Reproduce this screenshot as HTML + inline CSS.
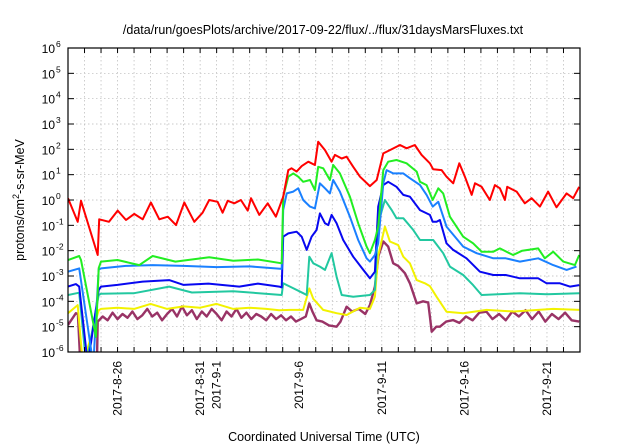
<!DOCTYPE html>
<html><head><meta charset="utf-8"><style>
html,body{margin:0;padding:0;background:#fff;}
svg{display:block;font-family:"Liberation Sans",sans-serif;}
</style></head><body>
<svg id="chart" width="640" height="448" viewBox="0 0 640 448" xmlns="http://www.w3.org/2000/svg">
<rect width="640" height="448" fill="#fff"/>
<text x="323" y="34" font-size="12.5" text-anchor="middle" fill="#000">/data/run/goesPlots/archive/2017-09-22/flux/../flux/31daysMarsFluxes.txt</text>
<text transform="translate(24,200) rotate(-90)" font-size="12.5" text-anchor="middle" fill="#000">protons/cm<tspan font-size="9" dy="-5">2</tspan><tspan dy="5">-s-sr-MeV</tspan></text>
<text x="324" y="441" font-size="12.5" text-anchor="middle" fill="#000">Coordinated Universal Time (UTC)</text>
<defs><clipPath id="plotclip"><rect x="68" y="48" width="512" height="304"/></clipPath></defs>
<g id="grid"></g>
<g id="series" clip-path="url(#plotclip)"></g>
<g id="axes"></g>
</svg>
<script>
const yTickExponents=[-6,-5,-4,-3,-2,-1,0,1,2,3,4,5,6];
const xTickDays=[3,8,9,14,19,24,29];
const xTickLabels=["2017-8-26","2017-8-31","2017-9-1","2017-9-6","2017-9-11","2017-9-16","2017-9-21"];

const redDays=[0,0.59,0.79,1.8,1.89,2.48,3.01,3.51,4.01,4.52,5.02,5.53,6.04,6.54,7.04,7.65,8.15,8.55,9.06,9.36,9.67,10.07,10.47,10.88,11.08,11.58,12.09,12.59,13.03,13.34,13.54,13.84,14.15,14.55,14.95,15.15,15.56,15.96,16.16,16.57,16.87,17.27,17.68,18.28,18.69,19.09,19.49,20.1,20.5,21.0,21.41,21.91,22.11,22.62,22.92,23.32,23.69,24.03,24.44,24.64,25.04,25.54,25.85,26.15,26.45,26.59,27.16,27.66,28.07,28.57,29.07,29.58,30.19,30.59,30.95];
const redLog=[0.07,-0.86,-0.03,-2.17,-0.76,-0.86,-0.42,-0.79,-0.55,-0.76,-0.1,-0.76,-0.66,-0.99,-0.1,-0.86,-0.5,0,-0.07,-0.5,-0.03,-0.13,0,-0.42,0.07,-0.59,-0.13,-0.66,0.13,1.18,1.25,1.12,1.34,1.51,1.38,2.3,1.97,1.51,1.78,1.64,1.71,1.31,0.92,0.55,0.79,1.84,1.97,2.17,2.04,2.17,1.78,1.45,1.21,1.18,0.92,0.66,1.45,0.92,0.2,0.66,0.52,0,0.59,0.46,0,0.52,0.33,-0.13,0.07,-0.26,0.33,-0.29,0.26,0.07,0.52];

const greenDays=[0,0.68,0.79,1.69,1.86,2.0,3.0,4.32,5.13,6.5,8.55,10,11.5,12.94,13.03,13.34,13.64,13.94,14.24,14.65,14.95,15.15,15.45,15.86,16.06,16.46,17.07,17.57,18.08,18.28,18.58,18.78,19.09,19.39,19.89,20.5,21.11,21.31,21.71,22.08,22.42,22.72,23.12,23.93,24.53,25.04,25.75,26.15,26.95,27.5,28.47,28.87,29.38,29.98,30.69,30.95];
const greenLog=[-2.37,-2.21,-2.37,-5.4,-2.69,-2.43,-2.37,-2.57,-2.21,-2.43,-2.26,-2.4,-2.35,-2.5,0.13,0.92,1.05,0.92,0.72,0.79,0.39,1.31,1.25,0.79,1.38,1.05,0.13,-0.92,-1.84,-2.1,-1.58,-1.05,1.18,1.51,1.58,1.45,1.12,0.72,0.59,0,0.46,0.26,-0.66,-1.45,-1.71,-2.04,-2.04,-1.91,-2.17,-2.0,-1.91,-2.3,-2.04,-2.43,-2.57,-2.17];

const lightBlueDays=[0,0.68,1.53,1.86,2.0,3.5,5.13,7,9,11,12.94,13.03,13.24,13.64,13.94,14.24,14.65,14.95,15.25,15.56,15.86,16.06,16.46,17.07,17.57,18.08,18.28,18.58,18.78,19.09,19.29,19.69,20.3,20.7,21.31,21.71,22.08,22.42,22.92,23.93,24.74,25.75,26.5,27.36,28.47,29.38,30.19,30.79];
const lightBlueLog=[-2.83,-2.7,-6.5,-2.74,-2.7,-2.6,-2.57,-2.6,-2.65,-2.62,-2.72,-0.39,0.26,0.33,0.46,0,-0.26,-0.33,0.66,0.46,0.26,0.79,0.33,-0.66,-1.58,-2.3,-2.43,-2.17,-1.71,0.66,1.18,1.05,1.05,0.86,0.59,0.2,-0.26,-0.07,-1.05,-1.84,-2.1,-2.3,-2.3,-2.43,-2.3,-2.57,-2.76,-2.63];

const blueDays=[0,0.48,0.68,1.2,1.86,2.0,3,4.52,6.13,7,8.5,10.37,11.5,12.79,12.94,13.03,13.34,13.84,14.15,14.45,14.75,15.05,15.25,15.56,15.76,15.96,16.26,16.66,17.27,17.88,18.28,18.58,18.78,19.09,19.39,19.89,20.3,20.7,21.31,21.91,22.08,22.32,22.52,22.92,23.32,24.13,24.94,25.75,26.5,27.36,28.47,28.98,29.78,30.39,30.95];
const blueLog=[-3.42,-3.32,-3.42,-6.5,-3.55,-3.42,-3.35,-3.22,-3.16,-3.35,-3.3,-3.42,-3.3,-3.42,-3.45,-1.45,-1.32,-1.25,-1.45,-1.97,-1.45,-1.18,-0.53,-0.92,-0.99,-0.59,-0.92,-1.58,-2.24,-2.76,-3.09,-2.83,-0.26,0.59,0.72,0.52,0.2,0.13,-0.4,-0.59,-0.86,-0.86,-0.79,-1.71,-1.97,-2.3,-2.83,-2.96,-2.96,-3.09,-3.09,-3.29,-3.29,-3.42,-3.36];

const tealDays=[0,0.68,1.1,1.86,2.0,4,6.13,7.5,10,12.94,13.03,13.44,14.24,14.45,14.61,14.85,15.25,15.56,15.96,16.26,16.57,17.27,18.28,18.58,18.78,19.19,19.59,19.89,20.3,20.9,21.31,22.11,22.72,23.12,23.93,24.53,25.04,27.36,29,30.95];
const tealLog=[-3.75,-3.66,-6.5,-3.75,-3.7,-3.68,-3.42,-3.65,-3.6,-3.75,-3.29,-3.42,-3.68,-3.75,-2.24,-2.5,-2.63,-2.76,-2.1,-3.03,-3.75,-3.82,-3.75,-3.55,-0.92,0,-0.39,-0.72,-0.72,-1.18,-1.58,-1.58,-2.1,-2.63,-2.96,-3.36,-3.75,-3.68,-3.72,-3.68];

const yellowDays=[0,0.59,0.9,1.86,2.0,3,4,5,6,7,8,9,10,11,12,12.79,13.44,14.24,14.61,14.85,15.45,16.26,16.87,17.68,18.28,18.58,18.78,19.19,19.49,19.99,20.3,20.7,21.11,21.61,21.91,22.32,22.92,23.93,25.34,27,29.38,30.95];
const yellowLog=[-4.47,-4.15,-6.5,-4.35,-4.3,-4.25,-4.3,-4.1,-4.3,-4.2,-4.25,-4.1,-4.3,-4.25,-4.3,-4.35,-4.34,-4.34,-3.49,-3.9,-4.34,-4.47,-4.54,-4.25,-4.3,-3.82,-2.2,-1.05,-1.64,-1.78,-2.24,-2.5,-3.16,-3.29,-3.4,-3.82,-4.41,-4.47,-4.34,-4.4,-4.3,-4.34];

const purpleDays=[0,0.48,0.6,0.75,1.75,1.8,2.1,2.4,2.7,3.0,3.3,3.6,3.9,4.2,4.5,4.8,5.1,5.4,5.7,6.0,6.3,6.6,6.9,7.2,7.5,7.8,8.1,8.4,8.7,9.0,9.3,9.6,9.9,10.2,10.5,10.8,11.1,11.4,11.7,12.0,12.3,12.6,12.9,13.2,13.5,13.8,14.1,14.4,14.61,14.8,15.05,15.4,15.8,16.26,16.5,16.87,17.2,17.6,18.0,18.28,18.58,18.8,19.09,19.39,19.69,19.99,20.4,20.7,21.11,21.5,21.81,21.91,22.02,22.3,22.52,22.9,23.32,23.7,24.1,24.5,24.9,25.34,25.7,26.1,26.5,26.9,27.3,27.7,28.1,28.5,28.9,29.3,29.7,30.1,30.5,30.95];
const purpleLog=[-4.93,-4.47,-4.5,-6.5,-6.5,-4.8,-4.6,-4.75,-4.45,-4.7,-4.5,-4.65,-4.4,-4.7,-4.55,-4.3,-4.6,-4.45,-4.75,-4.5,-4.3,-4.6,-4.2,-4.55,-4.35,-4.7,-4.4,-4.6,-4.3,-4.5,-4.75,-4.4,-4.6,-4.3,-4.65,-4.45,-4.7,-4.5,-4.6,-4.75,-4.5,-4.7,-4.55,-4.75,-4.6,-4.8,-4.7,-4.6,-4.08,-4.4,-4.75,-4.8,-4.95,-5.0,-4.8,-4.21,-4.4,-4.3,-4.5,-4.15,-3.42,-2.2,-1.64,-1.84,-2.5,-2.6,-2.89,-3.29,-4.08,-4.0,-4.05,-4.6,-5.2,-5.0,-5.0,-4.8,-4.74,-4.85,-4.6,-4.75,-4.45,-4.41,-4.7,-4.5,-4.75,-4.4,-4.6,-4.35,-4.7,-4.4,-4.8,-4.5,-4.7,-4.45,-4.75,-4.8];

const NS="http://www.w3.org/2000/svg";
const PL=68,PR=580,PT=48,PB=352,DAYS=31,YMIN=-6,YMAX=6;
function xScale(d){return PL+(d/DAYS)*(PR-PL);}
function yScale(l){return PB-(l-YMIN)/(YMAX-YMIN)*(PB-PT);}
function mk(tag,attrs,parent){const e=document.createElementNS(NS,tag);for(const k in attrs)e.setAttribute(k,attrs[k]);parent.appendChild(e);return e;}
const grid=document.getElementById('grid'),axes=document.getElementById('axes'),series=document.getElementById('series');

for(let d=1;d<DAYS;d++){
  const x=xScale(d);
  const g=mk('line',{x1:x,x2:x,y1:PT,y2:PB,stroke:'#b8b8b8','stroke-width':0.7,'stroke-dasharray':'1.5,2.5'},grid);
  
  
  const t1=mk('line',{x1:x,x2:x,y1:PB,y2:PB-5,stroke:'#000','stroke-width':1},axes);
  
  
  const t2=mk('line',{x1:x,x2:x,y1:PT,y2:PT+5,stroke:'#000','stroke-width':1},axes);
  
  
}
yTickExponents.forEach(function(e){
  const y=yScale(e);
  if(e>YMIN&&e<YMAX){
    const g=mk('line',{x1:PL,x2:PR,y1:y,y2:y,stroke:'#b8b8b8','stroke-width':0.7,'stroke-dasharray':'1.5,2.5'},grid);
    
    
  }
  const t1=mk('line',{x1:PL,x2:PL+6,y1:y,y2:y,stroke:'#000','stroke-width':1},axes);
  
  
  const t2=mk('line',{x1:PR,x2:PR-6,y1:y,y2:y,stroke:'#000','stroke-width':1},axes);
  
  
  const lab=mk('text',{x:PL-13,y:y+5,'font-size':12,'text-anchor':'end',fill:'#000'},axes);
  
  
  lab.textContent='10';
  const sup=mk('text',{x:PL-12,y:y-1,'font-size':8.5,'text-anchor':'start',fill:'#000'},axes);
  
  
  sup.textContent=String(e);
});
xTickDays.forEach(function(d,i){
  const x=xScale(d)+4;
  const t=mk('text',{transform:'translate('+x+','+(PB+9)+') rotate(-90)','font-size':12,'text-anchor':'end',fill:'#000'},axes);
  
  
  t.textContent=xTickLabels[i];
});
const frame=mk('rect',{x:PL,y:PT,width:PR-PL,height:PB-PT,fill:'none',stroke:'#000','stroke-width':1.2},axes);



const seriesList=[
  {name:'purple-series',days:purpleDays,vals:purpleLog,color:'#993366',w:2.4},
  {name:'yellow-series',days:yellowDays,vals:yellowLog,color:'#f2f200',w:2},
  {name:'teal-series',days:tealDays,vals:tealLog,color:'#22c8a0',w:2},
  {name:'blue-series',days:blueDays,vals:blueLog,color:'#0808f0',w:2},
  {name:'light-blue-series',days:lightBlueDays,vals:lightBlueLog,color:'#1a80ff',w:2},
  {name:'green-series',days:greenDays,vals:greenLog,color:'#22ee22',w:2},
  {name:'red-series',days:redDays,vals:redLog,color:'#ff0000',w:2}
];
seriesList.forEach(function(s){
  const pts=s.days.map(function(d,i){return xScale(d).toFixed(1)+','+yScale(s.vals[i]).toFixed(1);}).join(' ');
  const p=mk('polyline',{points:pts,fill:'none',stroke:s.color,'stroke-width':s.w,'stroke-linejoin':'round'},series);
  
  
});
</script>
</body></html>
